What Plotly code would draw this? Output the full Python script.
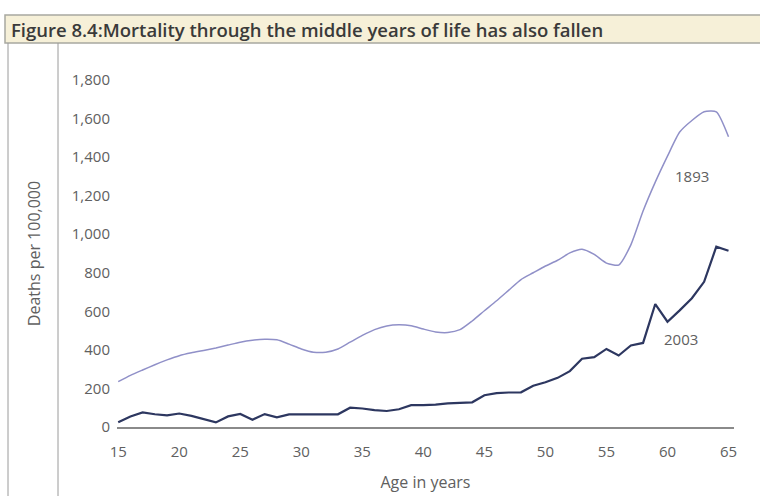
import plotly.graph_objects as go

ages = list(range(15, 66))

deaths_1893 = [235, 268, 296, 323, 348, 370, 385, 397, 410, 425,
               440, 450, 455, 452, 430, 405, 388, 388, 405, 440,
               475, 505, 524, 530, 525, 508, 493, 490, 505, 550,
               603, 655, 710, 765, 800, 835, 865, 903, 922, 895,
               850, 840, 945, 1120, 1270, 1405, 1530, 1590, 1635, 1635,
               1506]

deaths_2003 = [25, 55, 76, 66, 60, 70, 58, 40, 24, 55,
               68, 38, 67, 50, 65, 66, 66, 67, 66, 100,
               96, 88, 83, 92, 113, 113, 116, 123, 125, 128,
               165, 176, 179, 180, 214, 232, 255, 290, 354, 362,
               405, 371, 423, 436, 638, 546, 605, 668, 753, 935,
               914]

x_ticks = [15, 20, 25, 30, 35, 40, 45, 50, 55, 60, 65]
y_ticks = [0, 200, 400, 600, 800, 1000, 1200, 1400, 1600, 1800]
y_tick_labels = ["0", "200", "400", "600", "800", "1,000", "1,200", "1,400", "1,600", "1,800"]

title_text = "Figure 8.4:Mortality through the middle years of life has also fallen"
label_1893 = "1893"
label_2003 = "2003"

FONT = "Open Sans"
GREY = "#606060"

fig = go.Figure()
fig.add_trace(go.Scatter(x=ages, y=deaths_1893, mode="lines",
                         line=dict(color="#9090c8", width=1.5, shape="spline", smoothing=0.6),
                         name="1893", showlegend=False, hoverinfo="skip"))
fig.add_trace(go.Scatter(x=ages, y=deaths_2003, mode="lines",
                         line=dict(color="#2d3760", width=2.2),
                         name="2003", showlegend=False, hoverinfo="skip"))

L, R, T, B = 117, 26, 80, 69
W, H = 760, 496
pw, ph = W - L - R, H - T - B

def px(xp):
    return (xp - L) / pw

def py(yp):
    return (H - B - yp) / ph

shapes = [
    # title bar
    dict(type="rect", xref="paper", yref="paper", x0=px(5), x1=px(762),
         y0=py(43), y1=py(15), fillcolor="#f6f0d8",
         line=dict(color="#a8a8a0", width=1.5), layer="below"),
    # inner vertical rule
    dict(type="line", xref="paper", yref="paper", x0=px(58), x1=px(58),
         y0=py(43), y1=py(500), line=dict(color="#9a9a9a", width=1)),
    # left border
    dict(type="line", xref="paper", yref="paper", x0=px(8), x1=px(8),
         y0=py(43), y1=py(500), line=dict(color="#9a9a9a", width=1)),
]

annotations = [
    dict(xref="paper", yref="paper", x=px(9), y=py(29), xanchor="left", yanchor="middle",
         text=title_text, showarrow=False,
         font=dict(family=FONT, size=18.5, color="#3a3a3a", weight=600)),
    dict(x=62.0, y=1302, text=label_1893, showarrow=False,
         font=dict(family=FONT, size=15, color=GREY)),
    dict(x=61.1, y=456, text=label_2003, showarrow=False,
         font=dict(family=FONT, size=15, color=GREY)),
]

fig.update_layout(
    width=W, height=H,
    margin=dict(l=L, r=R, t=T, b=B, pad=0),
    paper_bgcolor="white", plot_bgcolor="white",
    shapes=shapes, annotations=annotations,
    font=dict(family=FONT, color=GREY, size=15),
)
fig.update_xaxes(range=[14.9, 65.45], tickvals=x_ticks, ticktext=[str(v) for v in x_ticks],
                 showgrid=False, zeroline=False, showline=True, linecolor="#8a8a8a", linewidth=2,
                 ticks="", ticklabelstandoff=10, automargin=False,
                 tickfont=dict(family=FONT, size=15, color=GREY),
                 title=dict(text="Age in years", standoff=17,
                            font=dict(family=FONT, size=16, color=GREY)))
fig.update_yaxes(range=[0, 1800], tickvals=y_ticks, ticktext=y_tick_labels,
                 showgrid=False, zeroline=False, showline=False, ticks="",
                 ticklabelstandoff=6, automargin=False,
                 tickfont=dict(family=FONT, size=15, color=GREY),
                 title=dict(text="Deaths per 100,000", standoff=27,
                            font=dict(family=FONT, size=16, color=GREY)))

fig.write_html("out.html", config={"displayModeBar": False},
               post_script="document.body.style.margin='0';")
